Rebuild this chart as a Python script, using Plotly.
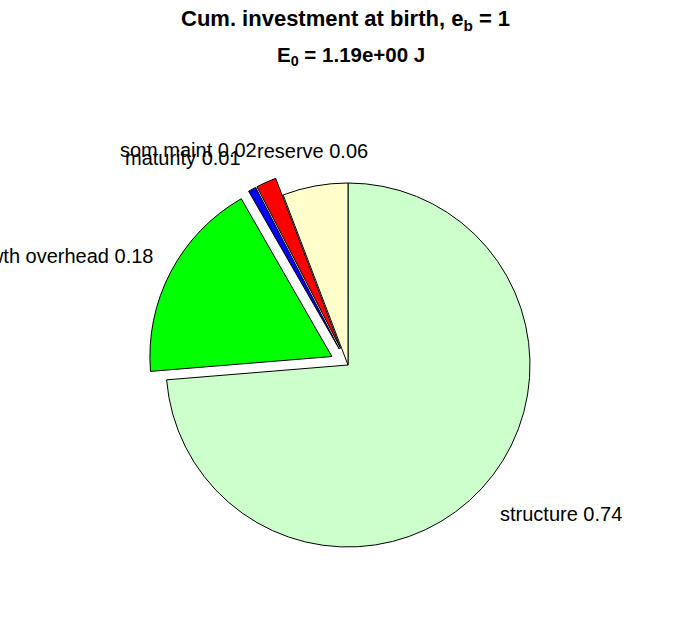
import math
import plotly.graph_objects as go

# ---- data ----
labels = ["structure", "growth overhead", "maturity", "som maint", "reserve"]
values = [0.737, 0.180, 0.007, 0.018, 0.058]
colors = ["#CCFFCC", "#00FF00", "#0000FF", "#FF0000", "#FFFFCC"]
explode = [0, 0.1, 0.1, 0.1, 0]
title_line1 = "<b>Cum. investment at birth, e<sub>b</sub> = 1</b>"
title_line2 = "<b>E<sub>0</sub> = 1.19e+00 J</b>"

W, H = 696, 618
cx, cy = 348, 365          # pie centre in px (from top-left)
R = 182                    # pie radius in px
half = R * (1 + max(explode))

fig = go.Figure(go.Pie(
    labels=labels, values=values, sort=False, direction="clockwise", rotation=0,
    pull=explode, textinfo="none", hoverinfo="label+value",
    marker=dict(colors=colors, line=dict(color="black", width=1)),
    domain=dict(x=[(cx - half) / W, (cx + half) / W],
                y=[(H - cy - half) / H, (H - cy + half) / H]),
    showlegend=False,
))

total = sum(values)
cum = 0.0
annotations = []
for lab, v, ex in zip(labels, values, explode):
    frac_mid = (cum + v / 2) / total
    cum += v
    th = math.radians(90 - 360 * frac_mid)
    px = cx + R * 1.2 * math.cos(th)
    py = cy - R * (1.2 + ex) * math.sin(th)
    c = math.cos(th)
    if c > 0.3:
        xa, xs = "left", -11
    elif c < -0.3:
        xa, xs = "right", 0
    else:
        xa, xs = "center", 4
    annotations.append(dict(
        x=px / W, y=1 - py / H, xref="paper", yref="paper",
        text=f"{lab} {v:.2f}", showarrow=False, xanchor=xa, yanchor="middle",
        xshift=xs, yshift=-1, font=dict(size=20, color="black")))

annotations.append(dict(x=0.497, y=1 - 20 / H, xref="paper", yref="paper",
                        text=title_line1, showarrow=False, xanchor="center",
                        yanchor="middle", font=dict(size=22, color="black")))
annotations.append(dict(x=0.505, y=1 - 56 / H, xref="paper", yref="paper",
                        text=title_line2, showarrow=False, xanchor="center",
                        yanchor="middle", font=dict(size=20.5, color="black")))

fig.update_layout(
    width=W, height=H, margin=dict(l=0, r=0, t=0, b=0),
    paper_bgcolor="white", plot_bgcolor="white",
    font=dict(family="Liberation Sans, Arial, sans-serif", color="black"),
    annotations=annotations,
)

fig.write_html("out.html", config={"displayModeBar": False},
               post_script="document.body.style.margin='0';document.body.style.overflow='hidden';")
